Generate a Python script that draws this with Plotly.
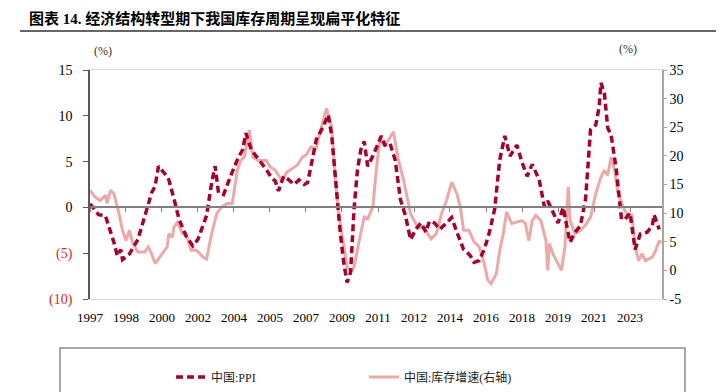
import plotly.graph_objects as go

# ---------------- data ----------------
ppi_dates = [
    "1997-01", "1997-06", "1997-10",
    "1998-03", "1998-05", "1998-07", "1998-08", "1998-12",
    "1999-05", "1999-09",
    "2000-01", "2000-03", "2000-05", "2000-09", "2000-11",
    "2001-02", "2001-05", "2001-09",
    "2002-01", "2002-04", "2002-09", "2002-12",
    "2003-02", "2003-04", "2003-07", "2003-11",
    "2004-03", "2004-06", "2004-08", "2004-11",
    "2005-02", "2005-08", "2005-11",
    "2006-01", "2006-03", "2006-06", "2006-09", "2006-12",
    "2007-03", "2007-06", "2007-08", "2007-10",
    "2008-01", "2008-05", "2008-08", "2008-10",
    "2009-01", "2009-03", "2009-05", "2009-07", "2009-09", "2009-11",
    "2010-01", "2010-03", "2010-05", "2010-07", "2010-10",
    "2011-01", "2011-03", "2011-05", "2011-08", "2011-11",
    "2012-02", "2012-05", "2012-08", "2012-11",
    "2013-02", "2013-05", "2013-07", "2013-10",
    "2014-01", "2014-05", "2014-08", "2014-11",
    "2015-03", "2015-05", "2015-07", "2015-09", "2015-12",
    "2016-03", "2016-06", "2016-09", "2016-12",
    "2017-03", "2017-06", "2017-10",
    "2018-01", "2018-04", "2018-07", "2018-11",
    "2019-02", "2019-04", "2019-07", "2019-10",
    "2020-01", "2020-05", "2020-08", "2020-11",
    "2021-02", "2021-05", "2021-08", "2021-10", "2021-11",
    "2022-01", "2022-03", "2022-05", "2022-08", "2022-11",
    "2023-01", "2023-04", "2023-07", "2023-10",
    "2024-02", "2024-05", "2024-06", "2024-08", "2024-09",
]
ppi_values = [
    0.4, -0.8, -0.9,
    -3.8, -5.3, -4.6, -5.7, -5.1,
    -3.5, -0.9,
    1.6, 2.3, 4.5, 3.6, 3.0,
    0.9, -1.3, -3.1,
    -4.2, -3.5, -0.9, 2.7,
    4.5, 1.6, 1.4, 3.4,
    5.2, 6.3, 8.1, 6.3,
    5.6, 4.1, 3.2,
    2.9, 1.8, 3.4, 3.0, 2.5,
    3.0, 2.5, 2.7, 4.5,
    7.4, 8.8, 10.1, 7.8,
    0.9, -2.7, -6.0, -8.2, -7.1, -0.2,
    4.1, 6.3, 7.2, 4.5, 5.6,
    7.0, 7.8, 6.8, 7.0, 5.2,
    0.9, -0.9, -3.5, -2.4,
    -1.7, -2.7, -1.5, -1.7,
    -2.4, -1.7, -1.1, -2.7,
    -4.6, -4.9, -5.3, -6.0, -5.8,
    -4.6, -2.7, -0.2, 5.2,
    7.8, 5.6, 6.8,
    4.9, 3.4, 4.7, 3.0,
    0.1, 0.7, -0.6, -1.7,
    0.0, -3.8, -2.7, -2.0,
    0.9, 8.5, 9.0, 11.0, 13.6,
    12.5, 8.7, 7.9, 4.1, -1.3,
    -1.3, -0.6, -4.6, -2.9,
    -2.7, -2.0, -0.8, -1.7, -2.4,
]

inv_dates = [
    "1997-01", "1997-04", "1997-07", "1997-10", "1997-11",
    "1998-01", "1998-03", "1998-06", "1998-08", "1998-10", "1998-12",
    "1999-02", "1999-05", "1999-09", "1999-11",
    "2000-01", "2000-03", "2000-07", "2000-10", "2000-11",
    "2001-01", "2001-02", "2001-04", "2001-07", "2001-09", "2001-12",
    "2002-03", "2002-05", "2002-07", "2002-09", "2002-12",
    "2003-03", "2003-06", "2003-09", "2003-12",
    "2004-03", "2004-05", "2004-07", "2004-10", "2004-12",
    "2005-03", "2005-08", "2005-10",
    "2006-01", "2006-04", "2006-05", "2006-08", "2006-11",
    "2007-02", "2007-05", "2007-07", "2007-10",
    "2008-01", "2008-03", "2008-05", "2008-07", "2008-10", "2008-12",
    "2009-02", "2009-05", "2009-07", "2009-09", "2009-11",
    "2010-02", "2010-05", "2010-07", "2010-10", "2010-12",
    "2011-02", "2011-05", "2011-07", "2011-10",
    "2012-01", "2012-04", "2012-08", "2012-12",
    "2013-04", "2013-08", "2013-11",
    "2014-02", "2014-05", "2014-08", "2014-11",
    "2015-01", "2015-03", "2015-06", "2015-09", "2015-12",
    "2016-03", "2016-05", "2016-07", "2016-10", "2016-12",
    "2017-02", "2017-04", "2017-07", "2017-10",
    "2018-01", "2018-03", "2018-05", "2018-07", "2018-09", "2018-12",
    "2019-03", "2019-04", "2019-05", "2019-07", "2019-10", "2019-12",
    "2020-02", "2020-04", "2020-05", "2020-08", "2020-11",
    "2021-02", "2021-05", "2021-08", "2021-11",
    "2022-01", "2022-03", "2022-05", "2022-07", "2022-09", "2022-12",
    "2023-03", "2023-05", "2023-07", "2023-09", "2023-11",
    "2024-01", "2024-05", "2024-07", "2024-09", "2024-10",
]
inv_values = [
    14.0, 12.8, 12.2, 13.1, 11.7,
    14.0, 13.4, 9.9, 7.0, 5.2, 7.0,
    4.7, 3.2, 3.2, 4.1,
    2.9, 1.2, 2.9, 4.1, 6.4,
    5.8, 7.6, 8.4, 6.4, 6.4, 3.5,
    3.5, 3.0, 2.3, 2.0, 6.4,
    9.9, 11.1, 11.7, 11.7,
    17.5, 19.2, 19.8, 24.5, 19.8,
    19.2, 19.2, 18.1,
    17.5, 16.2, 15.7, 17.2, 17.8,
    18.4, 19.8, 20.1, 21.6,
    21.3, 23.9, 26.2, 28.3, 25.1, 16.3,
    9.9, 4.1, 0.6, -0.3, 0.6,
    5.2, 9.3, 9.0, 11.1, 17.5,
    22.7, 21.9, 22.7, 24.2,
    19.2, 15.7, 9.9, 7.6,
    7.3, 5.5, 6.4,
    9.9, 12.2, 15.4, 13.4,
    11.0, 7.0, 7.0, 5.0, 4.1,
    1.2, -1.7, -2.3, -0.6, 3.5,
    6.4, 10.2, 8.2, 8.4,
    8.7, 8.2, 5.2, 8.7, 9.6, 8.7,
    5.2, 0.0, 4.7, 2.9, 1.2, 0.0,
    4.1, 14.6, 8.7, 6.4, 7.0,
    7.9, 9.3, 13.4, 16.3,
    17.5, 16.6, 19.8, 17.5, 13.4, 11.1,
    9.3, 9.9, 4.1, 1.7, 2.9,
    1.7, 2.3, 3.5, 5.2, 4.7,
]

x_tick_dates = ["1997-01", "1998-10", "2000-07", "2002-04", "2004-01", "2005-10",
                "2007-07", "2009-04", "2011-01", "2012-10", "2014-07", "2016-04",
                "2018-01", "2019-10", "2021-07", "2023-04"]
x_tick_labels = ["1997", "1998", "2000", "2002", "2004", "2005", "2007", "2009",
                 "2011", "2012", "2014", "2016", "2018", "2019", "2021", "2023"]

left_ticks = [-10, -5, 0, 5, 10, 15]
left_labels = ["(10)", "(5)", "0", "5", "10", "15"]
right_ticks = [-5, 0, 5, 10, 15, 20, 25, 30, 35]
right_labels = ["-5", "0", "5", "10", "15", "20", "25", "30", "35"]

title_text = "图表 14. 经济结构转型期下我国库存周期呈现扁平化特征"
ppi_name = "中国:PPI"
inv_name = "中国:库存增速(右轴)"

# ---------------- styles ----------------
SERIF = "Liberation Serif, Noto Sans CJK SC"
PPI_COLOR = "#A8002B"
INV_COLOR = "#EDA9A9"
NEG_COLOR = "#E02525"
X_RANGE = ["1997-01-01", "2024-10-20"]


def colored(label):
    if label.startswith("("):
        return "<span style='color:%s'>%s</span>" % (NEG_COLOR, label)
    return label


fig = go.Figure()
# inventory growth on the main subplot (right-hand scale is the base y axis)
fig.add_trace(go.Scatter(
    x=inv_dates, y=inv_values, name=inv_name, mode="lines",
    line=dict(color=INV_COLOR, width=3),
    xaxis="x", yaxis="y", hoverinfo="skip",
))
# PPI on the overlay subplot (left-hand scale), drawn on top
fig.add_trace(go.Scatter(
    x=ppi_dates, y=ppi_values, name=ppi_name, mode="lines",
    line=dict(color=PPI_COLOR, width=3.5, dash="7px,4px"),
    xaxis="x2", yaxis="y2", hoverinfo="skip",
))

# the page places the figure 8px from the top-left corner, so the figure is
# 8px smaller and all positions are measured from (8, 8)
fig.update_layout(
    width=716, height=384,
    margin=dict(l=82, r=62, t=62, b=93, autoexpand=False),
    paper_bgcolor="white", plot_bgcolor="white",
    font=dict(family=SERIF, size=13, color="#000000"),
    showlegend=True,
    legend=dict(
        orientation="h", xref="container", yref="container",
        x=0.2277, xanchor="left", y=0.039, yanchor="middle",
        font=dict(family=SERIF, size=12, color="#222222"),
        entrywidth=148, entrywidthmode="pixels",
        traceorder="reversed", bgcolor="rgba(0,0,0,0)",
    ),
    xaxis=dict(
        type="date", range=X_RANGE, anchor="y",
        tickmode="array", tickvals=x_tick_dates, ticktext=x_tick_labels,
        ticks="outside", ticklen=6, tickcolor="rgba(0,0,0,0)",
        showline=True, linecolor="#d9d9d9", linewidth=1, mirror=True,
        showgrid=False, zeroline=False,
        tickfont=dict(family=SERIF, size=13, color="#000000"),
    ),
    xaxis2=dict(
        type="date", range=X_RANGE, overlaying="x", anchor="free", position=0.4,
        tickmode="array", tickvals=x_tick_dates,
        ticks="outside", ticklen=4, tickcolor="#808080", tickwidth=1,
        showticklabels=False,
        showline=True, linecolor="#808080", linewidth=2,
        showgrid=False, zeroline=False,
    ),
    yaxis=dict(
        range=[-5, 35], side="right", anchor="x",
        tickmode="array", tickvals=right_ticks, ticktext=right_labels,
        ticks="outside", ticklen=3, tickcolor="#a6a6a6",
        showline=True, linecolor="#a6a6a6", linewidth=1.5,
        showgrid=False, zeroline=False, ticklabelstandoff=0,
        tickfont=dict(family=SERIF, size=14, color="#000000"),
    ),
    yaxis2=dict(
        range=[-10, 15], overlaying="y", side="left", anchor="x",
        tickmode="array", tickvals=left_ticks,
        ticktext=[colored(t) for t in left_labels],
        ticks="outside", ticklen=5, tickcolor="#595959",
        showline=True, linecolor="#595959", linewidth=1.5,
        showgrid=False, zeroline=False, ticklabelstandoff=8,
        tickfont=dict(family=SERIF, size=14, color="#000000"),
    ),
)

# title, "(%)" unit labels
fig.add_annotation(xref="paper", yref="paper", x=-0.1098, y=1.227,
                   xanchor="left", yanchor="middle", showarrow=False,
                   text="<b>" + title_text + "</b>",
                   font=dict(family=SERIF, size=15, color="#000000"))
fig.add_annotation(xref="paper", yref="paper", x=0.023, y=1.085,
                   xanchor="center", yanchor="middle", showarrow=False,
                   text="(%)", font=dict(family=SERIF, size=12, color="#333333"))
fig.add_annotation(xref="paper", yref="paper", x=0.94, y=1.093,
                   xanchor="center", yanchor="middle", showarrow=False,
                   text="(%)", font=dict(family=SERIF, size=12, color="#333333"))

# underline below the title and the frame around the legend
fig.add_shape(type="line", xref="paper", yref="paper",
              x0=-0.1224, x1=1.105, y0=1.1703, y1=1.1703,
              line=dict(color="#333333", width=1.5))
fig.add_shape(type="rect", xref="paper", yref="paper",
              x0=-0.0524, x1=1.0402, y0=-0.214, y1=-0.5,
              line=dict(color="#8c8c8c", width=1.5))

fig.write_html("out.html")
